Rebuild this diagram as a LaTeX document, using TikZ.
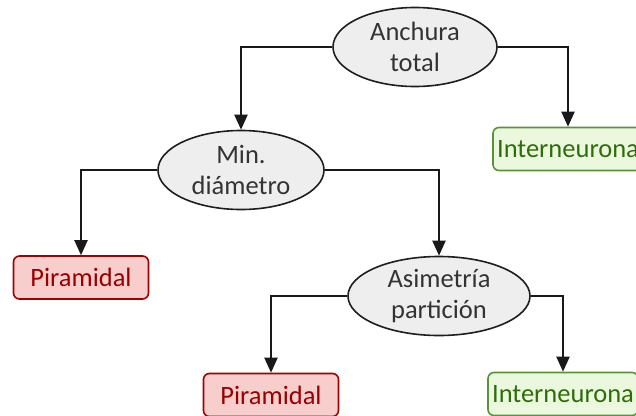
\documentclass[tikz,border=0pt]{standalone}
\usepackage{fontspec}
\setmainfont{Carlito}
\usetikzlibrary{shapes.geometric,arrows.meta}
\definecolor{qfill}{HTML}{EEEEEE}
\definecolor{qline}{HTML}{1E1E1E}
\definecolor{qtext}{HTML}{333333}
\definecolor{pfill}{HTML}{F8CECC}
\definecolor{pline}{HTML}{A00000}
\definecolor{ptext}{HTML}{990000}
\definecolor{ifill}{HTML}{EBF8DE}
\definecolor{iline}{HTML}{5A923A}
\definecolor{itext}{HTML}{2D6E0A}
\tikzset{
  question/.style={ellipse, draw=qline, fill=qfill, line width=1.6pt,
    minimum width=166pt, minimum height=79pt, inner sep=0pt,
    text=qtext, align=center, font=\fontsize{26.5}{31}\selectfont},
  leaf/.style={rectangle, rounded corners=6pt, line width=1.6pt,
    minimum height=43pt, inner sep=0pt, font=\fontsize{26.5}{30}\selectfont},
  pira/.style={leaf, draw=pline, fill=pfill, text=ptext, minimum width=135pt},
  inter/.style={leaf, draw=iline, fill=ifill, text=itext, minimum width=150pt},
  branch/.style={draw=black!90, line width=2pt,
    -{Triangle[length=15pt,width=13pt]}},
}
\begin{document}
\begin{tikzpicture}[x=1pt,y=-1pt]
  \useasboundingbox (0,0) rectangle (636,415);
  \clip (0,0) rectangle (636,415);
  \fill[white] (0,0) rectangle (636,415);

  % decision nodes
  \node[question, minimum width=164pt] (anch) at (415,47) {Anchura\\total};
  \node[question] (diam) at (241,170) {Min.\\diámetro};
  \node[question, minimum width=182pt] (asim) at (439,296) {Asimetría\\partición};

  % leaves
  \node[inter] (int1) at (568,149) {Interneurona};
  \node[pira]  (pir1) at (81,277.5) {Piramidal};
  \node[pira]  (pir2) at (271,395) {Piramidal};
  \node[inter] (int2) at (563,394) {Interneurona};

  % branches
  \draw[branch] (anch.west) -| (diam.north);
  \draw[branch] (anch.east) -| (int1.north);
  \draw[branch] (diam.west) -| (pir1.north);
  \draw[branch] (diam.east) -| (asim.north);
  \draw[branch] (asim.west) -| (pir2.north);
  \draw[branch] (asim.east) -| (int2.north);
\end{tikzpicture}
\end{document}
